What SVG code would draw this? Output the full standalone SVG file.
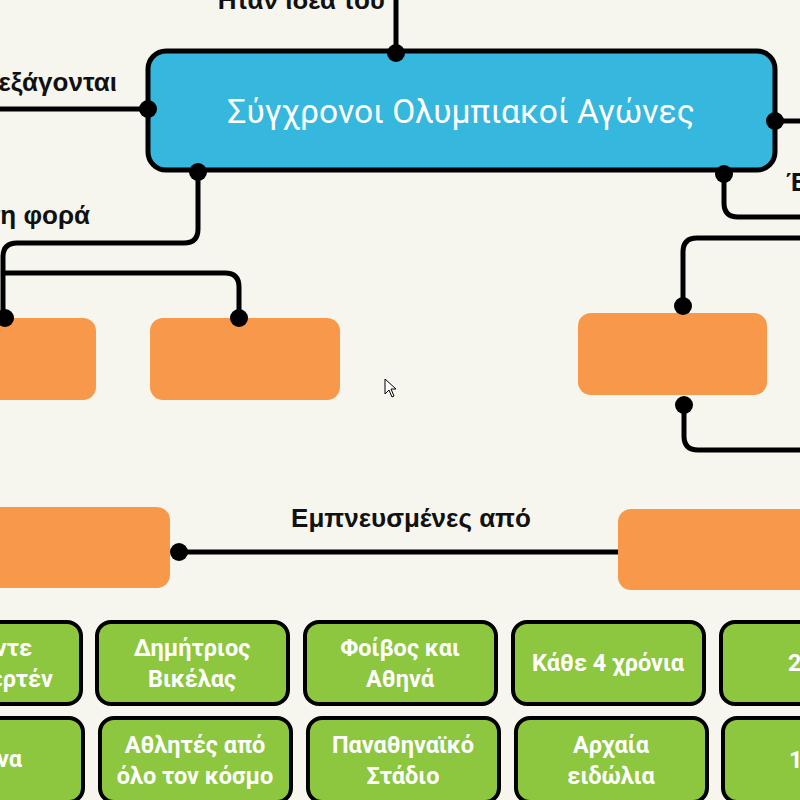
<svg xmlns="http://www.w3.org/2000/svg" width="800" height="800" viewBox="0 0 800 800">
<style>
.bg{fill:#f6f6ee}
.main{fill:#36b7de;stroke:#000;stroke-width:5}
.org{fill:#f7984a}
.grn{fill:#8dc63f;stroke:#000;stroke-width:4}
.ln{fill:none;stroke:#000;stroke-width:5;stroke-linejoin:round}
.dot{fill:#000}
.lbl{font-family:"Liberation Sans",Arial,sans-serif;font-weight:bold;font-size:26px;fill:#111}
.gt{font-family:Roboto,"Noto Sans",sans-serif;font-weight:bold;font-size:23.5px;fill:#fff;text-anchor:middle}
.mt{font-family:Roboto,"Noto Sans",sans-serif;font-size:33.5px;fill:#fff;text-anchor:middle}
</style>
<rect class="bg" x="0" y="0" width="800" height="800"/>
<g id="connectors">
<path class="ln" d="M396,0 V53"/>
<path class="ln" d="M0,109 H148"/>
<path class="ln" d="M198,172 V229 Q198,243 184,243 H17 Q3,243 3,257 V318"/>
<path class="ln" d="M3,273 H225 Q239,273 239,287 V318"/>
<path class="ln" d="M775,121 H800"/>
<path class="ln" d="M724,174 V203 Q724,217 738,217 H800"/>
<path class="ln" d="M683,306 V252 Q683,238 697,238 H800"/>
<path class="ln" d="M684,405 V436 Q684,450 698,450 H800"/>
<path class="ln" d="M179,552 H620"/>
<text class="lbl" x="385" y="9" text-anchor="end">Ηταν ιδέα του</text>
<text class="lbl" x="117" y="91" text-anchor="end">εξάγονται</text>
<text class="lbl" x="90" y="224" text-anchor="end">τη φορά</text>
<text class="lbl" x="786" y="191">Έ</text>
<text class="lbl" x="411" y="527" text-anchor="middle">Εμπνευσμένες από</text>
</g>
<g id="main">
<rect class="main" x="148" y="51" width="627" height="119" rx="18"/>
<text class="mt" x="461" y="123">Σύγχρονοι Ολυμπιακοί Αγώνες</text>
</g>
<g id="o1"><rect class="org" x="-100" y="318" width="196" height="82" rx="13"/></g>
<g id="o2"><rect class="org" x="150" y="318" width="190" height="82" rx="13"/></g>
<g id="o3"><rect class="org" x="578" y="313" width="189" height="82" rx="13"/></g>
<g id="o4"><rect class="org" x="-30" y="507" width="200" height="81" rx="13"/></g>
<g id="o5"><rect class="org" x="618" y="509" width="200" height="81" rx="13"/></g>
<g id="dots">
<circle class="dot" cx="396" cy="53" r="9"/>
<circle class="dot" cx="148" cy="109" r="9"/>
<circle class="dot" cx="198" cy="172" r="9"/>
<circle class="dot" cx="775" cy="121" r="9"/>
<circle class="dot" cx="724" cy="174" r="9"/>
<circle class="dot" cx="5" cy="318" r="9"/>
<circle class="dot" cx="239" cy="318" r="9"/>
<circle class="dot" cx="683" cy="306" r="9"/>
<circle class="dot" cx="684" cy="405" r="9"/>
<circle class="dot" cx="179" cy="552" r="9"/>
</g>
<g id="g1"><rect class="grn" x="-110" y="622" width="191" height="82" rx="14"/>
<text class="gt" x="32" y="656" style="text-anchor:end">ντε</text>
<text class="gt" x="53" y="687" style="text-anchor:end">ερτέν</text></g>
<g id="g2"><rect class="grn" x="97" y="622" width="191" height="82" rx="14"/>
<text class="gt" x="192" y="656">Δημήτριος</text><text class="gt" x="192" y="687">Βικέλας</text></g>
<g id="g3"><rect class="grn" x="305" y="622" width="191" height="82" rx="14"/>
<text class="gt" x="400" y="656">Φοίβος και</text><text class="gt" x="400" y="687">Αθηνά</text></g>
<g id="g4"><rect class="grn" x="513" y="622" width="191" height="82" rx="14"/>
<text class="gt" x="608" y="671">Κάθε 4 χρόνια</text></g>
<g id="g5"><rect class="grn" x="721" y="622" width="191" height="82" rx="14"/>
<text class="gt" x="788" y="671" style="text-anchor:start">2</text></g>
<g id="g6"><rect class="grn" x="-108" y="718" width="191" height="84" rx="14"/>
<text class="gt" x="22" y="767" style="text-anchor:end">να</text></g>
<g id="g7"><rect class="grn" x="100" y="718" width="191" height="84" rx="14"/>
<text class="gt" x="195" y="753">Αθλητές από</text><text class="gt" x="195" y="784">όλο τον κόσμο</text></g>
<g id="g8"><rect class="grn" x="308" y="718" width="191" height="84" rx="14"/>
<text class="gt" x="403" y="753">Παναθηναϊκό</text><text class="gt" x="403" y="784">Στάδιο</text></g>
<g id="g9"><rect class="grn" x="516" y="718" width="191" height="84" rx="14"/>
<text class="gt" x="611" y="753">Αρχαία</text><text class="gt" x="611" y="784">ειδώλια</text></g>
<g id="g10"><rect class="grn" x="723" y="718" width="191" height="84" rx="14"/>
<text class="gt" x="789" y="768" style="text-anchor:start">1</text></g>
<polygon points="385,379 385,394 389,390 392,397 394,396 391,389 396,389" fill="#fff" stroke="#000" stroke-width="1"/>
</svg>
